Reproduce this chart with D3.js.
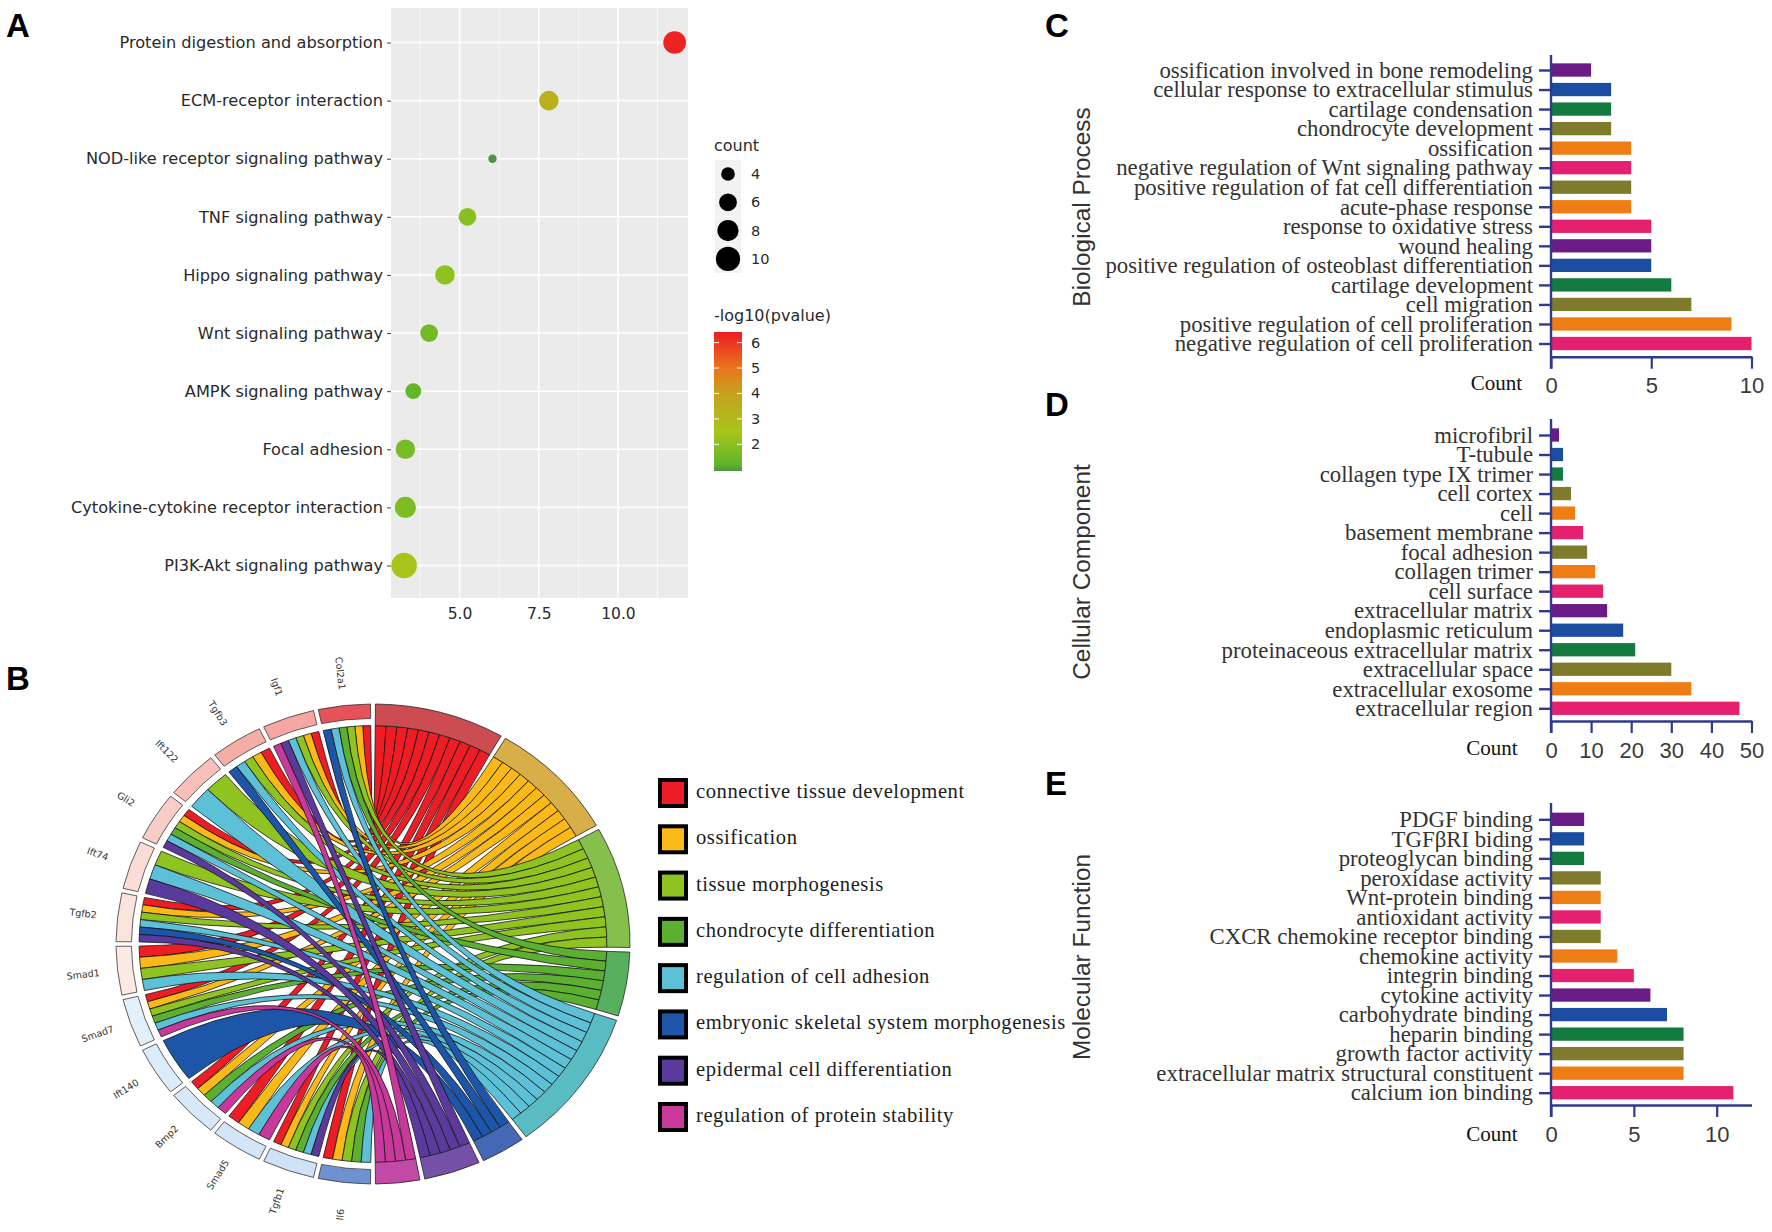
<!DOCTYPE html>
<html>
<head>
<meta charset="utf-8">
<script src="https://cdn.jsdelivr.net/npm/d3@7"></script>
<style>
  html, body { margin: 0; background: #fff; }
  svg { display: block; }
</style>
</head>
<body>
<div id="chart"></div>
<script>
// panel A
const pathways = ["Protein digestion and absorption", "ECM-receptor interaction", "NOD-like receptor signaling pathway",
  "TNF signaling pathway", "Hippo signaling pathway", "Wnt signaling pathway", "AMPK signaling pathway",
  "Focal adhesion", "Cytokine-cytokine receptor interaction", "PI3K-Akt signaling pathway"];
const richFactor = [11.79, 7.82, 6.04, 5.25, 4.54, 4.04, 3.54, 3.29, 3.29, 3.25];
const pathwayCount = [9, 7, 2, 6, 7, 6, 5, 7, 8, 11];
const logP = [6.3, 3.4, 1.0, 2.0, 2.1, 1.6, 1.3, 1.7, 1.8, 2.6];
const countKeys = [4, 6, 8, 10];
const logTicks = [2, 3, 4, 5, 6];

// panel B
const genes = ["Col2a1", "Igf1", "Tgfb3", "Ift122", "Gli2", "Ift74", "Tgfb2", "Smad1", "Smad7", "Ift140", "Bmp2", "Smad5", "Tgfb1", "Il6"];
const goTerms = ["connective tissue development", "ossification", "tissue morphogenesis", "chondrocyte differentiation",
  "regulation of cell adhesion", "embryonic skeletal system morphogenesis", "epidermal cell differentiation", "regulation of protein stability"];
// which terms each gene belongs to (index into goTerms)
const geneTerms = [
  [0, 1, 2, 3, 4, 5],
  [0, 1, 2, 4, 6, 7],
  [0, 1, 2, 4, 5],
  [2, 4],
  [0, 1, 2, 3, 4, 6],
  [2, 4, 6],
  [0, 1, 2, 4, 5, 6],
  [0, 1, 2, 4],
  [0, 1, 2, 3, 4, 7],
  [5],
  [0, 1, 3, 4, 7],
  [0, 1, 4, 7],
  [0, 1, 2, 3, 4, 6],
  [0, 1, 2, 3, 4]
];

// panels C, D, E
const bpTerms = ["ossification involved in bone remodeling", "cellular response to extracellular stimulus", "cartilage condensation",
  "chondrocyte development", "ossification", "negative regulation of Wnt signaling pathway", "positive regulation of fat cell differentiation",
  "acute-phase response", "response to oxidative stress", "wound healing", "positive regulation of osteoblast differentiation",
  "cartilage development", "cell migration", "positive regulation of cell proliferation", "negative regulation of cell proliferation"];
const bpCounts = [2, 3, 3, 3, 4, 4, 4, 4, 5, 5, 5, 6, 7, 9, 10];
const ccTerms = ["microfibril", "T-tubule", "collagen type IX trimer", "cell cortex", "cell", "basement membrane", "focal adhesion",
  "collagen trimer", "cell surface", "extracellular matrix", "endoplasmic reticulum", "proteinaceous extracellular matrix",
  "extracellular space", "extracellular exosome", "extracellular region"];
const ccCounts = [2, 3, 3, 5, 6, 8, 9, 11, 13, 14, 18, 21, 30, 35, 47];
const mfTerms = ["PDGF binding", "TGFβRI biding", "proteoglycan binding", "peroxidase activity", "Wnt-protein binding", "antioxidant activity",
  "CXCR chemokine receptor binding", "chemokine activity", "integrin binding", "cytokine activity", "carbohydrate binding", "heparin binding",
  "growth factor activity", "extracellular matrix structural constituent", "calcium ion binding"];
const mfCounts = [2, 2, 2, 3, 3, 3, 3, 4, 5, 6, 7, 8, 8, 8, 11];

const purple = "#6a1b86", blue = "#1b4ea0", green = "#137a40", olive = "#7e7c2c", orange = "#ef7d16", pink = "#e5206f";
const barColors = [purple, blue, green, olive, orange, pink, olive, orange, pink, purple, blue, green, olive, orange, pink];
const ribbonColors = ["#ee1c25", "#fbb917", "#8fc31f", "#5cb031", "#5cc0d6", "#1d55a8", "#5a3a9c", "#c9399b"];
const termArcColors = ["#cc4c52", "#d8ae48", "#86c04c", "#57b05e", "#58bcc2", "#4468b5", "#7450a8", "#c04aa6"];
const geneArcColors = ["#e5525a", "#f5a8a3", "#f5aea6", "#f8c0b8", "#f8cdc6", "#fbdcd6", "#fce4de", "#fbe9e4",
  "#e3f0fa", "#dcecf8", "#d8e8f8", "#d3e5f7", "#cfe2f7", "#6e92cf"];
const navy = "#2f3a8c";

const svg = d3.select("#chart").append("svg")
  .attr("width", 1772).attr("height", 1232)
  .style("background", "#fff");

// panel letters
[["A", 6, 37], ["B", 6, 690], ["C", 1045, 37], ["D", 1045, 416], ["E", 1045, 795]].forEach(l => {
  svg.append("text").attr("x", l[1]).attr("y", l[2]).text(l[0])
    .style("font", "bold 33px 'Liberation Sans'").attr("fill", "#000");
});

/* ---------- A: bubble plot ---------- */
const plotA = { left: 391, right: 688, top: 8, bottom: 598 };
const x = d3.scaleLinear().domain([2.82, 12.18]).range([plotA.left - 0.5, plotA.right - 1]);
const y = d3.scalePoint().domain(pathways).range([42.5, 565.5]);
const r = d3.scaleSqrt().domain([2, 11]).range([4.2, 12.8]);
const colorA = d3.scaleLinear().domain([1, 1.25, 2.5, 4, 5, 6.4])
  .range(["#4e9440", "#5fb52b", "#a6c61a", "#c5a21e", "#ea7519", "#ed1c24"]);

const gA = svg.append("g");
gA.append("rect").attr("x", plotA.left).attr("y", plotA.top)
  .attr("width", plotA.right - plotA.left).attr("height", plotA.bottom - plotA.top)
  .attr("fill", "#ebebeb");
[3.75, 6.25, 8.75, 11.25].forEach(v => {
  gA.append("line").attr("x1", x(v)).attr("x2", x(v)).attr("y1", plotA.top).attr("y2", plotA.bottom)
    .attr("stroke", "#fff").attr("stroke-width", 0.7);
});
[5, 7.5, 10].forEach(v => {
  gA.append("line").attr("x1", x(v)).attr("x2", x(v)).attr("y1", plotA.top).attr("y2", plotA.bottom)
    .attr("stroke", "#fff").attr("stroke-width", 1.5);
});
pathways.forEach(p => {
  gA.append("line").attr("x1", plotA.left).attr("x2", plotA.right).attr("y1", y(p)).attr("y2", y(p))
    .attr("stroke", "#fff").attr("stroke-width", 1.5);
});

const axisLeftA = gA.append("g").attr("transform", `translate(${plotA.left},0)`)
  .call(d3.axisLeft(y).tickSize(4).tickPadding(4));
axisLeftA.select(".domain").remove();
axisLeftA.selectAll("text").style("font", "16.2px 'DejaVu Sans'").attr("fill", "#2a2a2a");
axisLeftA.selectAll("line").attr("stroke", "#444");

const axisBottomA = gA.append("g").attr("transform", `translate(0,${plotA.bottom})`)
  .call(d3.axisBottom(x).tickValues([5, 7.5, 10]).tickFormat(d3.format(".1f")).tickSize(0).tickPadding(10));
axisBottomA.select(".domain").remove();
axisBottomA.selectAll("text").style("font", "15.5px 'DejaVu Sans'").attr("fill", "#2a2a2a");

gA.selectAll("circle.dot").data(pathways).enter().append("circle")
  .attr("class", "dot")
  .attr("cx", (d, i) => x(richFactor[i]))
  .attr("cy", d => y(d))
  .attr("r", (d, i) => r(pathwayCount[i]))
  .attr("fill", (d, i) => colorA(logP[i]));

// count legend
gA.append("text").attr("x", 714).attr("y", 151).text("count")
  .style("font", "16px 'DejaVu Sans'").attr("fill", "#2a2a2a");
countKeys.forEach((c, i) => {
  const cy = 174 + i * 28.3;
  gA.append("rect").attr("x", 715).attr("y", cy - 14).attr("width", 26).attr("height", 28).attr("fill", "#f2f2f2");
  gA.append("circle").attr("cx", 728).attr("cy", cy).attr("r", r(c)).attr("fill", "#000");
  gA.append("text").attr("x", 751).attr("y", cy + 5).text(c)
    .style("font", "14.5px 'DejaVu Sans'").attr("fill", "#2a2a2a");
});

// colour bar
gA.append("text").attr("x", 714).attr("y", 321).text("-log10(pvalue)")
  .style("font", "16px 'DejaVu Sans'").attr("fill", "#2a2a2a");
const barY = d3.scaleLinear().domain([0.95, 6.3]).range([471, 335]);
const grad = svg.append("defs").append("linearGradient").attr("id", "logGrad")
  .attr("x1", 0).attr("x2", 0).attr("y1", 1).attr("y2", 0);
colorA.domain().forEach((v, i) => {
  grad.append("stop").attr("offset", (v - 1) / 5.4).attr("stop-color", colorA.range()[i]);
});
gA.append("rect").attr("x", 714).attr("y", 332).attr("width", 28).attr("height", 139).attr("fill", "url(#logGrad)");
logTicks.forEach(t => {
  gA.append("line").attr("x1", 714).attr("x2", 719).attr("y1", barY(t)).attr("y2", barY(t)).attr("stroke", "#fff");
  gA.append("line").attr("x1", 737).attr("x2", 742).attr("y1", barY(t)).attr("y2", barY(t)).attr("stroke", "#fff");
  gA.append("text").attr("x", 751).attr("y", barY(t) + 5).text(t)
    .style("font", "14.5px 'DejaVu Sans'").attr("fill", "#2a2a2a");
});

/* ---------- B: chord plot ---------- */
const cx = 373, cy = 944, rx = 257, ry = 240;
const gB = svg.append("g").attr("transform", `translate(${cx},${cy}) scale(1,${ry / rx})`);
const R = rx, ribbonR = R * 0.91, geneInner = R * 0.94;
const pad = 1.1 * Math.PI / 180;
const termCount = goTerms.map((t, i) => d3.sum(geneTerms, g => g.filter(k => k === i).length));
const totalLinks = d3.sum(termCount);
const termArcs = [];
let at = 0;
termCount.forEach(n => {
  const span = n / totalLinks * Math.PI;
  termArcs.push([at + pad / 2, at + span - pad / 2]);
  at += span;
});
const geneSpan = Math.PI / genes.length;
const arcGen = d3.arc();

const links = [];
const used = goTerms.map(() => 0);
geneTerms.forEach((terms, gi) => {
  const hi = 2 * Math.PI - gi * geneSpan - pad / 2;
  const seg = (geneSpan - pad) / terms.length;
  terms.forEach((t, k) => {
    const span = (termArcs[t][1] - termArcs[t][0]) / termCount[t];
    const t0 = termArcs[t][0] + used[t] * span;
    used[t]++;
    links.push({ term: t, g0: hi - (k + 1) * seg, g1: hi - k * seg, t0: t0, t1: t0 + span });
  });
});
const ribbon = d => {
  const p = d3.path();
  const pt = a => [ribbonR * Math.sin(a), -ribbonR * Math.cos(a)];
  const start = pt(d.g0), c0 = pt(d.t0);
  p.moveTo(start[0], start[1]);
  p.arc(0, 0, ribbonR, d.g0 - Math.PI / 2, d.g1 - Math.PI / 2);
  p.quadraticCurveTo(0, 0, c0[0], c0[1]);
  p.arc(0, 0, ribbonR, d.t0 - Math.PI / 2, d.t1 - Math.PI / 2);
  p.quadraticCurveTo(0, 0, start[0], start[1]);
  p.closePath();
  return p.toString();
};
gB.selectAll("path.ribbon").data(d3.range(links.length).sort((a, b) => links[a].term - links[b].term).map(i => links[i]))
  .enter().append("path").attr("class", "ribbon")
  .attr("d", ribbon)
  .attr("fill", d => ribbonColors[d.term])
  .attr("stroke", "#111").attr("stroke-width", 0.8);

gB.selectAll("path.term").data(termArcs).enter().append("path").attr("class", "term")
  .attr("d", d => arcGen({ innerRadius: ribbonR, outerRadius: R, startAngle: d[0], endAngle: d[1] }))
  .attr("fill", (d, i) => termArcColors[i])
  .attr("stroke", "#222").attr("stroke-width", 0.8);

gB.selectAll("path.gene").data(genes).enter().append("path").attr("class", "gene")
  .attr("d", (d, i) => arcGen({
    innerRadius: geneInner, outerRadius: R,
    startAngle: 2 * Math.PI - (i + 1) * geneSpan + pad / 2,
    endAngle: 2 * Math.PI - i * geneSpan - pad / 2
  }))
  .attr("fill", (d, i) => geneArcColors[i])
  .attr("stroke", "#333").attr("stroke-width", 0.8);

genes.forEach((g, i) => {
  const a = 2 * Math.PI - (i + 0.5) * geneSpan;
  const deg = a * 180 / Math.PI - 270;
  svg.append("text")
    .attr("transform", `translate(${cx + rx * 1.135 * Math.sin(a)},${cy - ry * 1.135 * Math.cos(a)}) rotate(${deg})`)
    .attr("text-anchor", "middle").attr("dy", "0.35em")
    .style("font", "9.5px 'DejaVu Sans'").attr("fill", "#333")
    .text(g);
});

// term legend
const legendY = d3.scalePoint().domain(goTerms).range([793, 1117]);
goTerms.forEach((t, i) => {
  svg.append("rect").attr("x", 660).attr("y", legendY(t) - 13).attr("width", 26).attr("height", 26)
    .attr("fill", ribbonColors[i]).attr("stroke", "#000").attr("stroke-width", 4);
  svg.append("text").attr("x", 696).attr("y", legendY(t) + 5).text(t)
    .style("font", "20.6px 'Liberation Serif'").style("letter-spacing", "0.55px").attr("fill", "#1c1c1c");
});

/* ---------- C, D, E: bar charts ---------- */
function barPanel(o) {
  const g = svg.append("g");
  const xb = d3.scaleLinear().domain([0, o.max]).range([1551, 1751.5]);
  const yb = d3.scalePoint().domain(o.terms).range([o.first, o.last]);
  const h = (o.last - o.first) / 14 * 0.68;

  g.selectAll("rect").data(o.terms).enter().append("rect")
    .attr("x", xb(0))
    .attr("y", d => yb(d) - h / 2)
    .attr("width", (d, i) => xb(o.counts[i]) - xb(0))
    .attr("height", h)
    .attr("fill", (d, i) => barColors[i]);

  const ax = g.append("g").attr("transform", `translate(1551,0)`)
    .call(d3.axisLeft(yb).tickSize(12).tickPadding(6));
  ax.select(".domain").remove();
  ax.selectAll("line").attr("stroke", navy).attr("stroke-width", 2.4);
  ax.selectAll("text").style("font", "22.8px 'Liberation Serif'").attr("fill", "#333");

  g.append("line").attr("x1", 1551).attr("x2", 1551).attr("y1", o.axisTop).attr("y2", o.axisY + 12)
    .attr("stroke", navy).attr("stroke-width", 2.4);

  const bx = g.append("g").attr("transform", `translate(0,${o.axisY})`)
    .call(d3.axisBottom(xb).tickValues(o.ticks).tickFormat(d3.format("d")).tickSize(12).tickPadding(9).tickSizeOuter(0));
  bx.select(".domain").attr("stroke", navy).attr("stroke-width", 2.4);
  bx.selectAll("line").attr("stroke", navy).attr("stroke-width", 2.2);
  bx.selectAll("text").style("font", "22px 'Liberation Sans'").attr("fill", "#3a3a3a");

  g.append("text").attr("x", o.countX).attr("y", o.countY).attr("text-anchor", "middle").text("Count")
    .style("font", "21px 'Liberation Serif'").attr("fill", "#111");

  g.append("text")
    .attr("transform", `translate(1090,${o.titleY}) rotate(-90)`)
    .attr("text-anchor", "middle").text(o.title)
    .style("font", "24.4px 'Liberation Sans'").attr("fill", "#333");
}

barPanel({ terms: bpTerms, counts: bpCounts, max: 10, ticks: [0, 5, 10], first: 70, last: 343.5, axisTop: 55, axisY: 356.7, countX: 1496.5, countY: 390, title: "Biological Process", titleY: 207 });
barPanel({ terms: ccTerms, counts: ccCounts, max: 50, ticks: [0, 10, 20, 30, 40, 50], first: 435, last: 708.3, axisTop: 419, axisY: 721, countX: 1492, countY: 755, title: "Cellular Component", titleY: 572 });
barPanel({ terms: mfTerms, counts: mfCounts, max: 12.1, ticks: [0, 5, 10], first: 819.3, last: 1092.7, axisTop: 803, axisY: 1105, countX: 1492, countY: 1141, title: "Molecular Function", titleY: 957 });
</script>
</body>
</html>
